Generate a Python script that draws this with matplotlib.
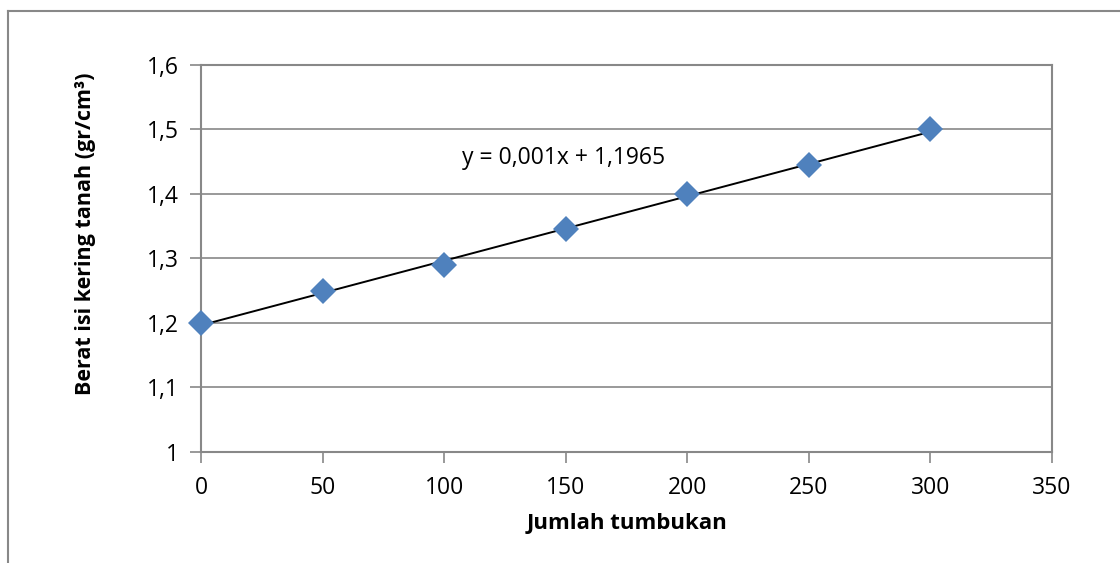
import matplotlib
matplotlib.use('Agg')
import matplotlib.pyplot as plt
import numpy as np
from matplotlib.lines import Line2D

# data
tumbukan = [0, 50, 100, 150, 200, 250, 300]
berat_isi = [1.20, 1.25, 1.29, 1.345, 1.40, 1.445, 1.50]
slope = 0.001
intercept = 1.1965
x_ticks = [0, 50, 100, 150, 200, 250, 300, 350]
y_ticks = [1.0, 1.1, 1.2, 1.3, 1.4, 1.5, 1.6]

plt.rcParams['font.family'] = ['Open Sans', 'DejaVu Sans']

fig = plt.figure(figsize=(11.2, 5.63), dpi=100)
ax = fig.add_axes([0.1795, 0.1972, 0.7598, 0.6874])

grid_c = '#888888'
ax.set_xlim(0, 350)
ax.set_ylim(1.0, 1.6)
ax.set_xticks(x_ticks)
ax.set_yticks(y_ticks)
ax.set_xticklabels([str(v) for v in x_ticks])
ax.set_yticklabels([('%g' % v).replace('.', ',') for v in y_ticks])
ax.yaxis.grid(True, color=grid_c, linewidth=1.2)
ax.set_axisbelow(True)
for s in ax.spines.values():
    s.set_color(grid_c)
    s.set_linewidth(1.5)
ax.tick_params(axis='both', colors=grid_c, labelcolor='black', length=8,
               width=1.2, labelsize=16.5, direction='out')
ax.tick_params(axis='x', pad=9)
ax.tick_params(axis='y', pad=8)

# trendline
xt = np.array([tumbukan[0], tumbukan[-1]])
ax.plot(xt, slope * xt + intercept, color='black', linewidth=1.4, zorder=2)
ax.plot(tumbukan, berat_isi, linestyle='none', marker='D', markersize=13,
        color='#4F81BD', markeredgewidth=0, zorder=3, clip_on=False)

ax.text(107.5, 1.455, 'y = 0,001x + 1,1965', fontsize=16.5, ha='left', va='center')

ax.set_xlabel('Jumlah tumbukan', fontsize=16, fontweight='bold', labelpad=10)
ax.set_ylabel('Berat isi kering tanah (gr/cm³)', fontsize=15.5, fontweight='bold')
ax.yaxis.set_label_coords(-0.124, 0.563)

# outer chart border (top and left visible)
fig.add_artist(Line2D([8 / 1120, 8 / 1120], [0, 1 - 11 / 563],
                      transform=fig.transFigure, color=grid_c, linewidth=1.5))
fig.add_artist(Line2D([8 / 1120, 1], [1 - 11 / 563, 1 - 11 / 563],
                      transform=fig.transFigure, color=grid_c, linewidth=1.5))

fig.savefig('out.png', dpi=100)
